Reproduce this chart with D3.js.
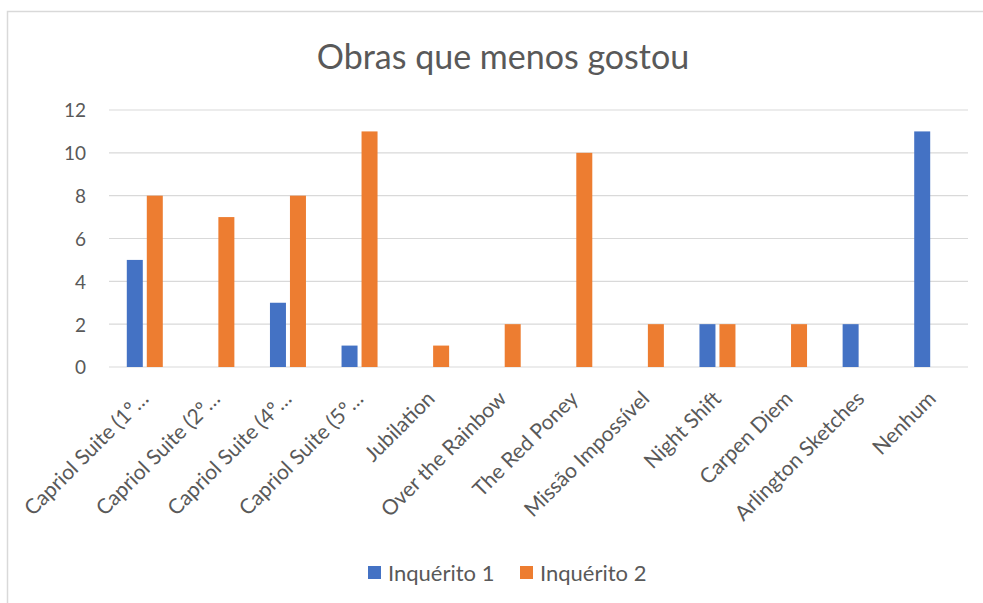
<!DOCTYPE html>
<html>
<head>
<meta charset="utf-8">
<script src="https://cdn.jsdelivr.net/npm/d3@7/dist/d3.min.js"></script>
<style>
  html, body { margin: 0; padding: 0; background: #fff; overflow: hidden; }
  svg { display: block; }
  text { font-family: Lato, "Open Sans", sans-serif; fill: #595959; }
</style>
</head>
<body>
<script>
const categories = ["Capriol Suite (1º…", "Capriol Suite (2º…", "Capriol Suite (4º…", "Capriol Suite (5º…",
  "Jubilation", "Over the Rainbow", "The Red Poney", "Missão Impossível", "Night Shift",
  "Carpen Diem", "Arlington Sketches", "Nenhum"];
const inquerito1 = [5, 0, 3, 1, 0, 0, 0, 0, 2, 0, 2, 11];
const inquerito2 = [8, 7, 8, 11, 1, 2, 10, 2, 2, 2, 0, 0];
const seriesNames = ["Inquérito 1", "Inquérito 2"];
const yTicks = [0, 2, 4, 6, 8, 10, 12];
const title = "Obras que menos gostou";
const colors = ["#4472C4", "#ED7D31"];

(function () {
const W = 983, H = 603;
const svg = d3.select("body").append("svg").attr("width", W).attr("height", H);

// chart border: only top and left edges are visible in the frame
svg.append("path").attr("d", `M7.5,${H} L7.5,11.5 L${W},11.5`)
  .attr("fill", "none").attr("stroke", "#D9D9D9").attr("stroke-width", 1.5);

const pLeft = 109, pRight = 968, pTop = 110, pBottom = 367;
const x = d3.scaleBand().domain(categories).range([pLeft, pRight]).paddingInner(0).paddingOuter(0);
const y = d3.scaleLinear().domain([0, 12]).range([pBottom, pTop]);

// gridlines
svg.append("g").selectAll("line").data(yTicks).join("line")
  .attr("x1", pLeft).attr("x2", pRight)
  .attr("y1", d => y(d)).attr("y2", d => y(d))
  .attr("stroke", "#D9D9D9").attr("stroke-width", 1.2);

// y axis labels
const yAxis = d3.axisLeft(y).tickValues(yTicks).tickSize(0).tickPadding(0);
const ga = svg.append("g").attr("transform", `translate(${pLeft - 23},0)`).call(yAxis);
ga.select(".domain").remove();
ga.selectAll("text").style("font-size", "19px").attr("fill", "#595959")
  .style("font-family", "Lato, 'Open Sans', sans-serif").attr("dy", "0.36em");

// bars
const data = [inquerito1, inquerito2];
const offsets = [-10, 10];
const bw = 16;
data.forEach((vals, si) => {
  svg.append("g").selectAll("rect").data(vals).join("rect")
    .attr("x", (d, i) => x(categories[i]) + x.bandwidth() / 2 + offsets[si] - bw / 2)
    .attr("width", bw)
    .attr("y", d => y(d))
    .attr("height", d => y(0) - y(d))
    .attr("fill", colors[si]);
});

// x labels
const xAxis = d3.axisBottom(x).tickSize(0).tickPadding(0);
const gx = svg.append("g").attr("transform", `translate(0,${pBottom})`).call(xAxis);
gx.select(".domain").remove();
gx.selectAll("text")
  .style("font-size", "21px").style("font-family", "Lato, 'Open Sans', sans-serif").attr("fill", "#595959")
  .attr("text-anchor", "end")
  .attr("dy", "0")
  .attr("y", 0)
  .attr("transform", "translate(5,33) rotate(-45)");

// title
svg.append("text").attr("x", 503).attr("y", 69).attr("text-anchor", "middle")
  .style("font-size", "34px").text(title);

// legend
const legX = [368, 520];
seriesNames.forEach((n, i) => {
  svg.append("rect").attr("x", legX[i]).attr("y", 566).attr("width", 13).attr("height", 13).attr("fill", colors[i]);
  svg.append("text").attr("x", legX[i] + 20).attr("y", 581).style("font-size", "22px").text(n);
});
})();
</script>
</body>
</html>
